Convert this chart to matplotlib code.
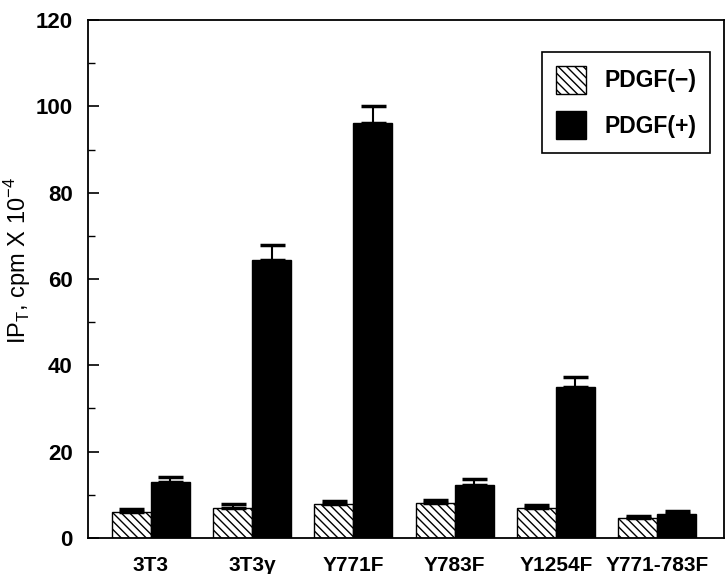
import numpy as np
import matplotlib.pyplot as plt
from matplotlib.patches import Patch
from matplotlib.ticker import MultipleLocator

plt.rcParams['font.family'] = ['Liberation Sans', 'DejaVu Sans']
plt.rcParams['hatch.linewidth'] = 1.0

# data
cells = ['3T3', '3T3Y', 'Y771F', 'Y783F', 'Y1254F', 'Y771-783F']
tick_labels = ['3T3', '3T3\u03b3', 'Y771F', 'Y783F', 'Y1254F', 'Y771-783F']
pdgf_minus = [6.0, 7.0, 7.8, 8.0, 7.0, 4.5]
pdgf_minus_err = [0.7, 0.8, 0.8, 0.8, 0.6, 0.5]
pdgf_plus = [13.0, 64.4, 96.2, 12.3, 35.0, 5.5]
pdgf_plus_err = [1.0, 3.5, 4.0, 1.3, 2.3, 0.8]

fig = plt.figure(figsize=(7.27, 5.74), dpi=100)
ax = fig.add_axes([0.121, 0.063, 0.875, 0.902])

x = np.arange(len(cells))
w = 0.385
zeros = np.zeros(len(cells))
ax.bar(x - w / 2, pdgf_minus, w, color='white', edgecolor='black',
       hatch='\\\\\\\\', linewidth=1.0,
       yerr=[zeros, pdgf_minus_err], capsize=9,
       error_kw=dict(elinewidth=1.5, capthick=2.5, ecolor='black'))
ax.bar(x + w / 2, pdgf_plus, w, color='black', edgecolor='black',
       yerr=[zeros, pdgf_plus_err], capsize=9,
       error_kw=dict(elinewidth=1.5, capthick=2.5, ecolor='black'))

ax.set_xlim(-0.62, 5.66)
ax.set_ylim(0, 120)
ax.yaxis.set_major_locator(MultipleLocator(20))
ax.yaxis.set_minor_locator(MultipleLocator(10))
ax.tick_params(axis='y', which='major', direction='in', length=8, width=1.2,
               labelsize=16, pad=11)
ax.tick_params(axis='y', which='minor', direction='in', length=5, width=1.0)
ax.tick_params(axis='x', length=0, labelsize=15, pad=13)
ax.set_xticks(x)
ax.set_xticklabels(tick_labels, fontweight='bold')
for lab in ax.get_yticklabels():
    lab.set_fontweight('bold')
for s in ax.spines.values():
    s.set_linewidth(1.3)

ax.set_ylabel('IP$_\\mathregular{T}$, cpm X 10$^\\mathregular{-4}$', fontsize=17)
ax.yaxis.set_label_coords(-0.087, 0.535)

handles = [Patch(facecolor='white', edgecolor='black', hatch='\\\\\\\\'),
           Patch(facecolor='black', edgecolor='black')]
leg = ax.legend(handles, ['PDGF(\u2212)', 'PDGF(+)'], loc='upper right',
                bbox_to_anchor=(0.978, 0.938), borderaxespad=0,
                fancybox=False, framealpha=1, edgecolor='black',
                prop=dict(size=16.5, weight='bold'),
                handlelength=1.3, handleheight=1.5, labelspacing=0.75,
                borderpad=0.6, handletextpad=0.8)
leg.get_frame().set_linewidth(1.2)

plt.savefig('out.png', dpi=100)
